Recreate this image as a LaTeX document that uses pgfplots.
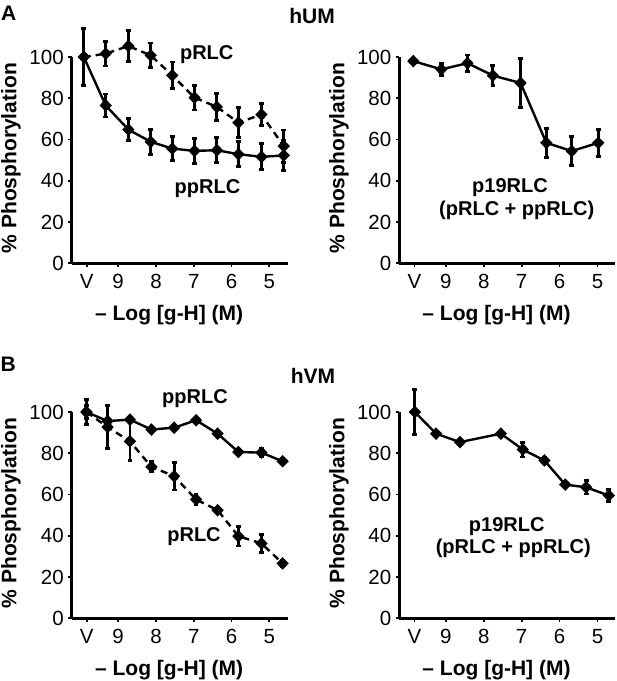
\documentclass[border=0pt]{standalone}
\usepackage{pgfplots}
\pgfplotsset{compat=1.18}
\usepackage{fontspec}
\setmainfont{Liberation Sans}

\pgfplotstableread{
x y e
0.09 100 0
0.67 101.6 6
1.27 105.3 7.5
1.86 100.8 6
2.43 91.1 6.5
3.02 80.3 6
3.61 75.8 6.5
4.18 68.2 7.3
4.79 72.1 5.3
5.38 56.8 7.8
}\AupRLC
\pgfplotstableread{
x y e
0.09 100 14
0.67 76.5 5.6
1.27 64.8 5.2
1.86 58.9 6
2.43 55.6 5.8
3.02 54.5 6
3.61 54.8 6
4.18 52.9 6
4.79 51.6 6.3
5.38 52.3 7.4
}\AuppRLC
\pgfplotstableread{
x y e
0.14 98 0.8
0.88 94 3
1.57 97 4
2.24 91 5
2.97 87.4 12
3.65 58.4 7
4.32 54.4 7
5.02 58.4 6.5
}\Ap
\pgfplotstableread{
x y e
0.16 100 6
0.72 95.6 1.5
1.31 96.3 0.8
1.88 91.5 0.8
2.48 92.4 0.8
3.06 96 1
3.63 89.5 0.8
4.18 80.6 1
4.79 80.3 2
5.35 76.1 1
}\BppRLC
\pgfplotstableread{
x y e
0.16 100 3
0.72 92.7 10.5
1.31 85.8 9.5
1.88 73.4 2.5
2.48 68.9 6.7
3.06 57.6 2.4
3.63 52.4 1
4.18 39.8 4.8
4.79 36.3 4.5
5.35 26.6 1.5
}\BpRLC
\pgfplotstableread{
x y e
0.18 100 11
0.74 89.5 1
1.37 85.4 1
2.45 89.5 1
3.03 81.8 3.6
3.60 76.5 1.5
4.15 64.8 1
4.70 63.5 3.2
5.30 59.5 3
}\Bp

\pgfplotsset{
  myaxis/.style={
    scale only axis, width=216.6pt, height=206.3pt,
    xmin=-0.23, xmax=5.5, ymin=0, ymax=100,
    axis x line*=bottom, axis y line*=left,
    axis line style={line width=2.6pt, black},
    xtick={0.17,1,2,3,4,5}, xticklabels={V,9,8,7,6,5},
    ytick={0,20,40,60,80,100},
    tick align=outside, major tick length=3.5pt,
    tick style={line width=1.8pt, black},
    tick label style={font=\fontsize{20.5}{20.5}\selectfont},
    xticklabel style={yshift=-4pt},
    yticklabel style={xshift=-1pt},
    /pgf/number format/assume math mode=true,
    clip=false,
    ylabel={\% Phosphorylation},
    xlabel={– Log [g-H] (M)},
    label style={font=\bfseries\fontsize{21}{21}\selectfont},
    ylabel style={at={(axis description cs:-0.28,0.51)}, anchor=center},
    xlabel style={at={(axis description cs:0.45,-0.25)}, anchor=center},
  },
  ser/.style={black, line width=2.4pt, mark=diamond*, mark size=4.6pt,
    mark options={solid, fill=black, xscale=1.3},
    error bars/y dir=both, error bars/y explicit,
    error bars/error bar style={line width=2.8pt, solid},
    error bars/error mark options={rotate=90, mark size=2.4pt, line width=2.8pt}},
  dsh/.style={dash pattern=on 7pt off 5pt},
}

\begin{document}
\begin{tikzpicture}[x=1pt,y=1pt]
\useasboundingbox (0,0) rectangle (617,681);

% A left
\begin{axis}[myaxis, at={(71.7pt,417.7pt)}, anchor=south west]
\addplot+[ser, dsh] table[x=x, y=y, y error=e] {\AupRLC};
\addplot+[ser] table[x=x, y=y, y error=e] {\AuppRLC};
\end{axis}

% A right
\begin{axis}[myaxis, at={(399.3pt,417.7pt)}, anchor=south west, width=216pt, xmax=5.47]
\addplot+[ser] table[x=x, y=y, y error=e] {\Ap};
\end{axis}

% B left
\begin{axis}[myaxis, at={(71.7pt,62.7pt)}, anchor=south west]
\addplot+[ser, dsh] table[x=x, y=y, y error=e] {\BpRLC};
\addplot+[ser] table[x=x, y=y, y error=e] {\BppRLC};
\end{axis}

% B right
\begin{axis}[myaxis, at={(399.3pt,62.7pt)}, anchor=south west, width=216pt, xmax=5.47]
\addplot+[ser] table[x=x, y=y, y error=e] {\Bp};
\end{axis}

\begin{scope}[every node/.style={font=\bfseries\fontsize{20}{22}\selectfont, inner sep=0pt}]
\node at (206.7,626) {pRLC};
\node at (207.5,492) {ppRLC};
\node at (510,493) {p19RLC};
\node at (516.7,471) {(pRLC + ppRLC)};
\node at (195,282) {ppRLC};
\node at (194,144.3) {pRLC};
\node at (506.7,154.3) {p19RLC};
\node at (513.3,132.7) {(pRLC + ppRLC)};
\end{scope}
\begin{scope}[every node/.style={font=\bfseries\fontsize{21}{21}\selectfont, inner sep=0pt}]
\node at (8.8,668) {A};
\node at (312,665) {hUM};
\node at (8.3,316.3) {B};
\node at (313,305) {hVM};
\end{scope}
\end{tikzpicture}
\end{document}
